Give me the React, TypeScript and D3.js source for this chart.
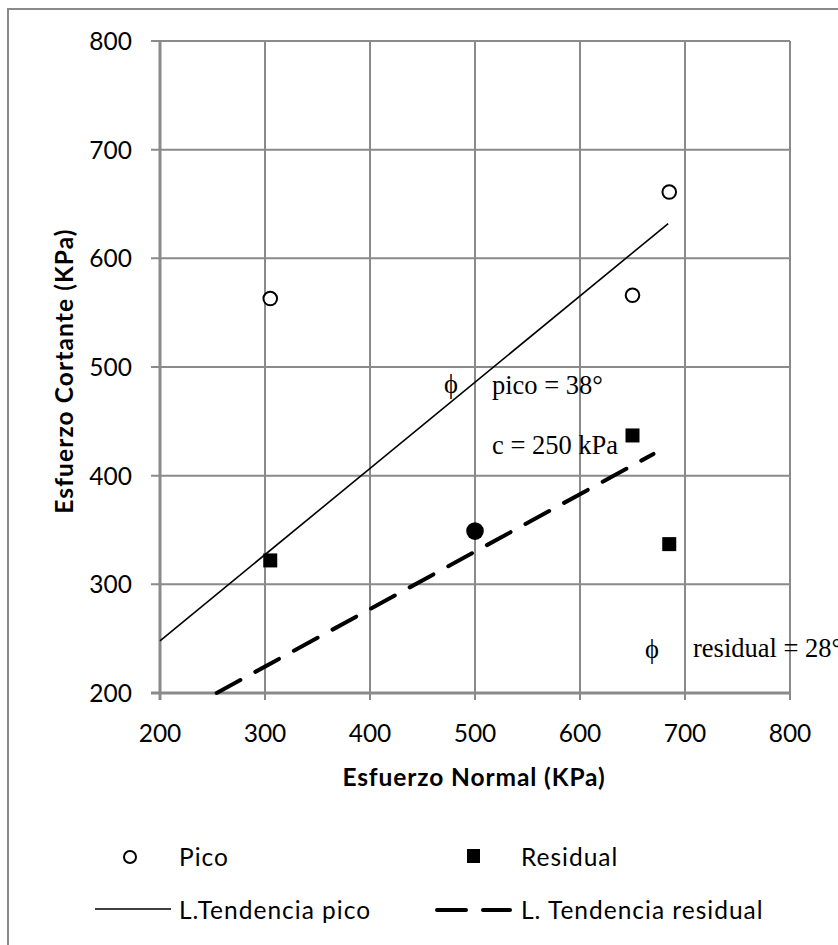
import React, { useEffect, useRef } from 'react';
import * as d3 from 'd3';

// ensayo de corte directo
const picoX = [305, 650, 685];
const picoY = [563, 566, 661];
const residualX = [305, 650, 685];
const residualY = [322, 437, 337];
// punto donde coinciden pico y residual (se ve como circulo relleno)
const comunX = [500];
const comunY = [349];

const trendPicoX = [200, 684];
const trendPicoY = [248, 632];
const trendResidualX = [254, 670];
const trendResidualY = [200, 420];

const xTicks = [200, 300, 400, 500, 600, 700, 800];
const yTicks = [200, 300, 400, 500, 600, 700, 800];

const width = 838;
const height = 945;
const gridColor = '#8a8a8a';
const sans = 'Lato, "Open Sans", sans-serif';
const serif = '"Liberation Serif", "Times New Roman", serif';

const App = () => {
  const svgRef = useRef(null);

  useEffect(() => {
    const svg = d3.select(svgRef.current);
    svg.selectAll('*').remove();

    const x = d3.scaleLinear().domain([200, 800]).range([160, 790]);
    const y = d3.scaleLinear().domain([200, 800]).range([693, 41]);

    // marco exterior
    svg.append('rect')
      .attr('x', 8).attr('y', 9)
      .attr('width', 900).attr('height', 1000)
      .attr('fill', 'none')
      .attr('stroke', gridColor)
      .attr('stroke-width', 2);

    // rejilla
    svg.append('g')
      .selectAll('line')
      .data(xTicks.slice(1))
      .enter()
      .append('line')
      .attr('x1', (d) => x(d)).attr('x2', (d) => x(d))
      .attr('y1', y(800)).attr('y2', y(200) + 7)
      .attr('stroke', gridColor)
      .attr('stroke-width', 2);

    svg.append('g')
      .selectAll('line')
      .data(yTicks.slice(1))
      .enter()
      .append('line')
      .attr('x1', x(200) - 9).attr('x2', x(800))
      .attr('y1', (d) => y(d)).attr('y2', (d) => y(d))
      .attr('stroke', gridColor)
      .attr('stroke-width', 2);

    // ejes
    svg.append('line')
      .attr('x1', x(200)).attr('x2', x(200))
      .attr('y1', y(800)).attr('y2', y(200) + 7)
      .attr('stroke', gridColor).attr('stroke-width', 3);
    svg.append('line')
      .attr('x1', x(200) - 9).attr('x2', x(800))
      .attr('y1', y(200)).attr('y2', y(200))
      .attr('stroke', gridColor).attr('stroke-width', 3);

    // etiquetas de ticks
    svg.append('g')
      .selectAll('text')
      .data(xTicks)
      .enter()
      .append('text')
      .attr('x', (d) => x(d))
      .attr('y', 742)
      .attr('text-anchor', 'middle')
      .style('font-family', sans)
      .style('font-size', '24.5px')
      .text((d) => d);

    svg.append('g')
      .selectAll('text')
      .data(yTicks)
      .enter()
      .append('text')
      .attr('x', 132)
      .attr('y', (d) => y(d) + 9)
      .attr('text-anchor', 'end')
      .style('font-family', sans)
      .style('font-size', '24.5px')
      .text((d) => d);

    // titulos de ejes
    svg.append('text')
      .attr('x', 474)
      .attr('y', 786)
      .attr('text-anchor', 'middle')
      .style('font-family', sans)
      .style('font-weight', 'bold')
      .style('font-size', '24.5px')
      .style('letter-spacing', '0.9px')
      .text('Esfuerzo Normal (KPa)');

    svg.append('text')
      .attr('transform', 'translate(73, 371) rotate(-90)')
      .attr('text-anchor', 'middle')
      .style('font-family', sans)
      .style('font-weight', 'bold')
      .style('font-size', '24.5px')
      .style('letter-spacing', '1.1px')
      .text('Esfuerzo Cortante (KPa)');

    // lineas de tendencia
    const line = d3.line().x((d) => x(d[0])).y((d) => y(d[1]));

    svg.append('path')
      .datum(d3.zip(trendPicoX, trendPicoY))
      .attr('d', line)
      .attr('fill', 'none')
      .attr('stroke', '#000')
      .attr('stroke-width', 1.6);

    svg.append('path')
      .datum(d3.zip(trendResidualX, trendResidualY))
      .attr('d', line)
      .attr('fill', 'none')
      .attr('stroke', '#000')
      .attr('stroke-width', 4)
      .attr('stroke-linecap', 'round')
      .attr('stroke-dasharray', '27 17');

    // puntos
    svg.append('g')
      .selectAll('circle')
      .data(d3.zip(picoX, picoY))
      .enter()
      .append('circle')
      .attr('cx', (d) => x(d[0]))
      .attr('cy', (d) => y(d[1]))
      .attr('r', 6.8)
      .attr('fill', '#fff')
      .attr('stroke', '#000')
      .attr('stroke-width', 2);

    svg.append('g')
      .selectAll('rect')
      .data(d3.zip(residualX, residualY))
      .enter()
      .append('rect')
      .attr('x', (d) => x(d[0]) - 7)
      .attr('y', (d) => y(d[1]) - 7)
      .attr('width', 14)
      .attr('height', 14)
      .attr('fill', '#000');

    svg.append('g')
      .selectAll('circle')
      .data(d3.zip(comunX, comunY))
      .enter()
      .append('circle')
      .attr('cx', (d) => x(d[0]))
      .attr('cy', (d) => y(d[1]))
      .attr('r', 8.8)
      .attr('fill', '#000');

    // anotaciones
    const notes = [
      { t: '\u03d5', x: 451, y: 393, a: 'middle' },
      { t: 'pico = 38°', x: 492, y: 394, a: 'start' },
      { t: 'c = 250 kPa', x: 492, y: 454, a: 'start' },
      { t: '\u03d5', x: 652, y: 658, a: 'middle' },
      { t: 'residual = 28°', x: 693, y: 657, a: 'start' },
    ];
    svg.append('g')
      .selectAll('text')
      .data(notes)
      .enter()
      .append('text')
      .attr('x', (d) => d.x)
      .attr('y', (d) => d.y)
      .attr('text-anchor', (d) => d.a)
      .style('font-family', serif)
      .style('font-size', '26.5px')
      .text((d) => d.t);

    // leyenda
    const leg = svg.append('g')
      .style('font-family', sans)
      .style('font-size', '24.5px')
      .style('letter-spacing', '1px');
    leg.append('circle')
      .attr('cx', 130).attr('cy', 857).attr('r', 6)
      .attr('fill', '#fff').attr('stroke', '#000').attr('stroke-width', 2);
    leg.append('text').attr('x', 179).attr('y', 866).text('Pico');
    leg.append('rect')
      .attr('x', 467).attr('y', 849).attr('width', 13).attr('height', 14)
      .attr('fill', '#000');
    leg.append('text').attr('x', 521).attr('y', 866).text('Residual');
    leg.append('line')
      .attr('x1', 95).attr('x2', 171).attr('y1', 909).attr('y2', 909)
      .attr('stroke', '#000').attr('stroke-width', 1.6);
    leg.append('text').attr('x', 179).attr('y', 919).text('L.Tendencia pico');
    leg.append('line')
      .attr('x1', 437).attr('x2', 510).attr('y1', 910).attr('y2', 910)
      .attr('stroke', '#000').attr('stroke-width', 4)
      .attr('stroke-linecap', 'round')
      .attr('stroke-dasharray', '29 17');
    leg.append('text').attr('x', 521).attr('y', 919).text('L. Tendencia residual');
  }, []);

  return (
    <svg
      ref={svgRef}
      width={width}
      height={height}
      style={{ position: 'absolute', left: 0, top: 0, background: '#fff' }}
    />
  );
};

export default App;
